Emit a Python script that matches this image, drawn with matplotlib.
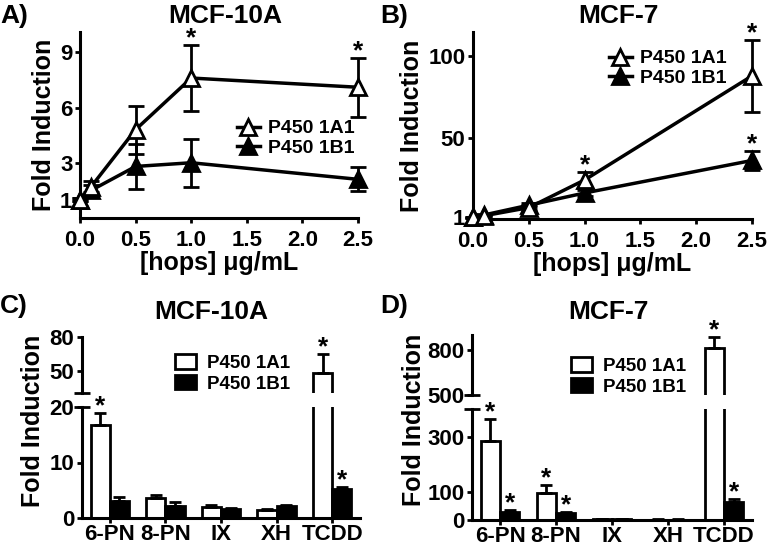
import numpy as np
import matplotlib.pyplot as plt
from matplotlib.lines import Line2D
from matplotlib.patches import Patch

plt.rcParams['font.family'] = ['Liberation Sans', 'DejaVu Sans']
plt.rcParams['font.weight'] = 'bold'
plt.rcParams['axes.labelweight'] = 'bold'

W, H = 770, 548

# Panels A/B: dose response
conc = [0.0, 0.1, 0.5, 1.0, 2.5]
a_1a1 = [1.0, 1.7, 4.8, 7.6, 7.1]
a_1a1_err = [0.1, 0.3, 1.3, 1.8, 1.6]
a_1b1 = [1.0, 1.5, 2.8, 3.0, 2.1]
a_1b1_err = [0.1, 0.3, 1.2, 1.3, 0.65]

b_1a1 = [1.0, 2.0, 7.0, 24.0, 88.0]
b_1a1_err = [0.3, 0.5, 1.5, 5.0, 22.0]
b_1b1 = [1.0, 2.5, 8.5, 16.0, 36.0]
b_1b1_err = [0.3, 0.5, 1.2, 2.0, 6.0]

# Panels C/D: compounds
compounds = ['6-PN', '8-PN', 'IX', 'XH', 'TCDD']
c_1a1 = [16.7, 3.6, 2.0, 1.4, 48.0]
c_1a1_err = [2.3, 0.5, 0.3, 0.15, 17.0]
c_1b1 = [3.1, 2.2, 1.6, 2.1, 5.2]
c_1b1_err = [0.6, 0.6, 0.2, 0.2, 0.4]
c_star_1a1 = [True, False, False, False, True]
c_star_1b1 = [False, False, False, False, True]

d_1a1 = [285.0, 98.0, 2.0, 1.5, 813.0]
d_1a1_err = [80.0, 28.0, 0.5, 0.5, 75.0]
d_1b1 = [29.0, 25.0, 2.0, 1.5, 65.0]
d_1b1_err = [7.0, 5.0, 0.5, 0.5, 10.0]
d_star_1a1 = [True, True, False, False, True]
d_star_1b1 = [True, True, False, False, True]


def box(l, t, r, b):
    return [l / W, 1 - b / H, (r - l) / W, (b - t) / H]


def style(ax):
    for s in ['top', 'right']:
        ax.spines[s].set_visible(False)
    for s in ['left', 'bottom']:
        ax.spines[s].set_linewidth(2.2)
    ax.tick_params(direction='out', length=3.5, width=2, labelsize=16, pad=2)


def bold_ticks(ax):
    for t in ax.get_xticklabels() + ax.get_yticklabels():
        t.set_fontweight('bold')


fig = plt.figure(figsize=(W / 100, H / 100), dpi=100)


def line_panel(rect, y1, e1, y2, e2, stars, ylim, yticks, title, ttl_x, label, lab_x, leg_xy):
    ax = fig.add_axes(box(*rect))
    style(ax)
    ax.tick_params(axis='x', pad=5)
    ax.errorbar(conc, y2, yerr=e2, color='k', lw=2.5, marker='^', ms=12,
                mfc='k', mec='k', mew=2, capsize=5.5, capthick=2, elinewidth=2, clip_on=False, zorder=3)
    ax.errorbar(conc, y1, yerr=e1, color='k', lw=2.5, marker='^', ms=12,
                mfc='white', mec='k', mew=2, capsize=5.5, capthick=2, elinewidth=2, clip_on=False, zorder=4)
    for x, y, e in stars:
        ax.annotate('*', (x, y + e), xytext=(0, -4), textcoords='offset points',
                    ha='center', va='bottom', fontsize=19, fontweight='bold')
    ax.set_xlim(0, 2.5)
    ax.set_ylim(*ylim)
    ax.set_xticks([0, 0.5, 1.0, 1.5, 2.0, 2.5])
    ax.set_xticklabels(['0.0', '0.5', '1.0', '1.5', '2.0', '2.5'])
    ax.set_yticks(yticks)
    bold_ticks(ax)
    ax.set_xlabel('[hops] \u03bcg/mL', fontsize=18, fontweight='bold', labelpad=0)
    ax.set_ylabel('Fold Induction', fontsize=18, fontweight='bold', labelpad=3)
    fig.text(ttl_x / W, 1 - 16 / H, title, ha='center', va='center', fontsize=19, fontweight='bold')
    fig.text(lab_x / W, 1 - 16 / H, label, ha='left', va='center', fontsize=19, fontweight='bold')
    handles = [Line2D([0], [0], color='k', lw=2.5, marker='^', ms=11, mfc='white', mec='k', mew=2),
               Line2D([0], [0], color='k', lw=2.5, marker='^', ms=11, mfc='k', mec='k', mew=2)]
    fig.legend(handles, ['P450 1A1', 'P450 1B1'], loc='upper left',
               bbox_to_anchor=(leg_xy[0] / W, 1 - leg_xy[1] / H), frameon=False,
               prop={'size': 14, 'weight': 'bold'}, handlelength=1.2, handletextpad=0.4,
               labelspacing=0.1, borderpad=0)
    return ax


line_panel((80, 32, 358, 218), a_1a1, a_1a1_err, a_1b1, a_1b1_err,
           [(1.0, a_1a1[3], a_1a1_err[3]), (2.5, a_1a1[4], a_1a1_err[4])],
           (0, 10.1), [1, 3, 6, 9], 'MCF-10A', 225, 'A)', 0, (227, 110))
line_panel((473, 32, 752, 219), b_1a1, b_1a1_err, b_1b1, b_1b1_err,
           [(1.0, b_1a1[3], b_1a1_err[3]), (2.5, b_1a1[4], b_1a1_err[4]), (2.5, b_1b1[4], b_1b1_err[4])],
           (0, 115), [1, 50, 100], 'MCF-7', 618, 'B)', 380, (599, 40))


def bar_panel(low_rect, up_rect, v1, e1, v2, e2, s1, s2, low_lim, up_lim, low_ticks, up_ticks,
              title, ttl_x, label, lab_x, ylab_xy, leg_xy):
    x = np.arange(len(compounds))
    w = 0.345
    lo = fig.add_axes(box(*low_rect))
    up = fig.add_axes(box(*up_rect))
    style(lo)
    style(up)
    up.spines['bottom'].set_visible(False)
    up.tick_params(axis='x', bottom=False, labelbottom=False)
    for ax in (lo, up):
        ax.bar(x - w / 2, v1, w, yerr=[np.zeros(5), e1], color='white', edgecolor='k', lw=2,
               error_kw=dict(capsize=4.5, capthick=2, elinewidth=2))
        ax.bar(x + w / 2, v2, w, yerr=[np.zeros(5), e2], color='k', edgecolor='k', lw=2,
               error_kw=dict(capsize=4.5, capthick=2, elinewidth=2))
        ax.set_xlim(-0.5, 4.5)
    lo.set_ylim(*low_lim)
    up.set_ylim(*up_lim)
    lo.set_yticks(low_ticks)
    up.set_yticks(up_ticks)
    lo.set_xticks(x)
    bold_ticks(lo)
    bold_ticks(up)
    lo.set_xticklabels(compounds, fontsize=16, fontweight='bold')
    lo.tick_params(axis='x', pad=1)
    # break marks
    lo.plot([0], [1], marker='_', ms=11, mew=2, color='k', transform=lo.transAxes, clip_on=False)
    up.plot([0], [0], marker='_', ms=11, mew=2, color='k', transform=up.transAxes, clip_on=False)
    for i in range(5):
        for flag, val, err, off in ((s1[i], v1[i], e1[i], -w / 2), (s2[i], v2[i], e2[i], w / 2)):
            if flag:
                tgt = up if val + err > low_lim[1] else lo
                tgt.annotate('*', (i + off, val + err), xytext=(0, -4), textcoords='offset points',
                             ha='center', va='bottom', fontsize=19, fontweight='bold',
                             annotation_clip=False)
    fig.text(ttl_x / W, 1 - 312 / H, title, ha='center', va='center', fontsize=19, fontweight='bold')
    fig.text(lab_x / W, 1 - 306 / H, label, ha='left', va='center', fontsize=19, fontweight='bold')
    fig.text(ylab_xy[0] / W, 1 - ylab_xy[1] / H, 'Fold Induction',
             rotation=90, ha='center', va='center', fontsize=18, fontweight='bold')
    handles = [Patch(facecolor='white', edgecolor='k', lw=2), Patch(facecolor='k', edgecolor='k', lw=2)]
    fig.legend(handles, ['P450 1A1', 'P450 1B1'], loc='upper left',
               bbox_to_anchor=(leg_xy[0] / W, 1 - leg_xy[1] / H), frameon=False,
               prop={'size': 13.5, 'weight': 'bold'}, handlelength=1.1, handleheight=0.8,
               handletextpad=0.6, labelspacing=0.15, borderpad=0)


bar_panel((82, 407, 360, 518), (82, 337, 360, 393), c_1a1, c_1a1_err, c_1b1, c_1b1_err,
          c_star_1a1, c_star_1b1, (0, 20), (30, 80), [0, 10, 20], [50, 80],
          'MCF-10A', 211, 'C)', 0, (33, 421), (166, 345))
bar_panel((472, 409, 752, 520), (472, 335, 752, 395), d_1a1, d_1a1_err, d_1b1, d_1b1_err,
          d_star_1a1, d_star_1b1, (0, 400), (500, 900), [0, 100, 300], [500, 800],
          'MCF-7', 608, 'D)', 380, (414, 420), (562, 348))

fig.savefig('out.png', dpi=100)
